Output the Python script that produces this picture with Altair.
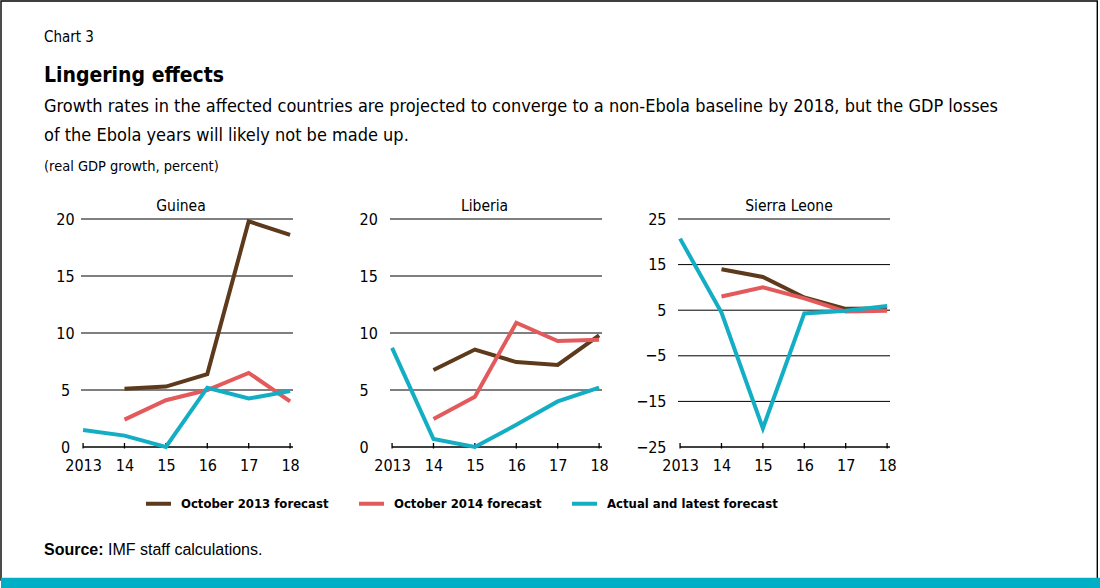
import json
import altair as alt
import pandas as pd

# ---------------- data ----------------
YEARS = [2013, 2014, 2015, 2016, 2017, 2018]
YEAR_LABELS = ["2013", "14", "15", "16", "17", "18"]
SERIES = ["October 2013 forecast", "October 2014 forecast", "Actual and latest forecast"]
COLORS = ["#5C3A1B", "#E35A5C", "#14AEC4"]

GUINEA_OCT13 = [None, 5.1, 5.3, 6.4, 19.8, 18.6]
GUINEA_OCT14 = [None, 2.4, 4.1, 5.0, 6.5, 4.0]
GUINEA_ACTUAL = [1.5, 1.0, 0.0, 5.2, 4.25, 4.9]

LIBERIA_OCT13 = [None, 6.75, 8.55, 7.45, 7.2, 9.8]
LIBERIA_OCT14 = [None, 2.45, 4.4, 10.9, 9.3, 9.4]
LIBERIA_ACTUAL = [8.7, 0.7, 0.0, 1.95, 4.0, 5.2]

SIERRA_OCT13 = [None, 14.0, 12.3, 7.8, 5.3, 5.4]
SIERRA_OCT14 = [None, 8.0, 10.0, 7.6, 4.7, 4.9]
SIERRA_ACTUAL = [20.7, 4.5, -20.9, 4.3, 4.9, 5.9]

GUINEA_TICKS = [0, 5, 10, 15, 20]
LIBERIA_TICKS = [0, 5, 10, 15, 20]
SIERRA_TICKS = [-25, -15, -5, 5, 15, 25]

CHART_NO = "Chart 3"
TITLE = "Lingering effects"
SUBTITLE = [
    "Growth rates in the affected countries are projected to converge to a non-Ebola baseline by 2018, but the GDP losses",
    "of the Ebola years will likely not be made up.",
]
UNITS = "(real GDP growth, percent)"
SOURCE_BOLD = "Source:"
SOURCE_TEXT = "IMF staff calculations."

# ---------------- style ----------------
NARROW = "DejaVu Sans Condensed, sans-serif"
REGULAR = "Liberation Sans, Arial, sans-serif"
TEAL = "#00AEC6"
PW = 212          # plot width
PH = 228          # plot height
OX, OY = 81, 219  # page position of first plot's origin
PX_PER_YEAR = PW / 5.12
X0 = 2012.95
X1 = 2018.07

one = pd.DataFrame({"k": [0]})


def long_df(oct13, oct14, actual):
    rows = []
    for s, vals in zip(SERIES, [oct13, oct14, actual]):
        for y, v in zip(YEARS, vals):
            if v is not None:
                rows.append({"Series": s, "Year": y, "Value": v})
    return pd.DataFrame(rows)


label_expr = f"{json.dumps(YEAR_LABELS)}[indexof({json.dumps(YEARS)}, datum.value)]"

legend = alt.Legend(
    title=None, orient="none", legendX=144 - OX, legendY=489 - OY,
    direction="horizontal", symbolType="stroke", symbolSize=625,
    symbolStrokeWidth=4, labelFont=NARROW, labelFontSize=13,
    labelFontWeight="bold", labelColor="black", labelOffset=8,
    columnPadding=22, padding=0, labelLimit=400,
)


def page_text(text, x, y, size, weight="normal", font=NARROW, align="left"):
    return alt.Chart(pd.DataFrame({"t": [text]})).mark_text(
        align=align, baseline="alphabetic", fontSize=size,
        fontWeight=weight, font=font, color="black",
    ).encode(x=alt.value(x), y=alt.value(y), text="t:N")


def panel(name, df, ticks, dom, cell_w, title_x, lab_pad, lab_align, extra=None):
    xdom_end = X1 + (cell_w - PW) / PX_PER_YEAR
    xs = alt.Scale(domain=[X0, xdom_end], nice=False, zero=False)
    ys = alt.Scale(domain=dom, nice=False, zero=False)
    xenc = alt.X(
        "Year:Q", scale=xs,
        axis=alt.Axis(values=YEARS, labelExpr=label_expr, domain=False,
                      ticks=False, grid=False, title=None, labelFont=NARROW,
                      labelFontSize=16, labelColor="black", labelPadding=10,
                      labelFlush=False, labelOverlap=False, zindex=1),
    )
    yenc = alt.Y(
        "Value:Q", scale=ys,
        axis=alt.Axis(values=ticks, domain=False, ticks=False, grid=False,
                      title=None, labelFont=NARROW, labelFontSize=16,
                      labelColor="black", labelPadding=lab_pad,
                      labelAlign=lab_align,
                      labelFlush=False, labelOverlap=False, zindex=1),
    )
    grid = alt.Chart(pd.DataFrame({"Value": ticks[1:]})).mark_rule(
        color="black", strokeWidth=1
    ).encode(y=alt.Y("Value:Q", scale=ys), x=alt.value(0), x2=alt.value(PW))
    base = alt.Chart(pd.DataFrame({"Year": [2013], "Value": [dom[0]]})).mark_rule(
        color="black", strokeWidth=1.3
    ).encode(x=alt.X("Year:Q", scale=xs), x2=alt.value(PW), y=alt.Y("Value:Q", scale=ys))
    tks = alt.Chart(pd.DataFrame({"Year": YEARS})).mark_rule(
        color="black", strokeWidth=1.3
    ).encode(x=alt.X("Year:Q", scale=xs), y=alt.value(PH - 4), y2=alt.value(PH + 1.5))
    lines = alt.Chart(df).mark_line(strokeWidth=4, strokeJoin="miter").encode(
        x=xenc, y=yenc,
        color=alt.Color("Series:N", scale=alt.Scale(domain=SERIES, range=COLORS),
                        legend=legend, sort=SERIES),
        detail="Series:N",
    )
    ttl = page_text(name, title_x, -8, 15.5, align="center")
    layers = (extra or []) + [grid, base, tks, lines, ttl]
    return alt.layer(*layers).properties(width=cell_w, height=PH)


background = alt.Chart(one).mark_rect(fill="white").encode(
    x=alt.value(0 - OX), x2=alt.value(1100 - OX), y=alt.value(0 - OY), y2=alt.value(588 - OY))
frame = alt.Chart(one).mark_rect(fill="white", fillOpacity=0, stroke="black", strokeWidth=1.4).encode(
    x=alt.value(1 - OX), x2=alt.value(1097.3 - OX), y=alt.value(1 - OY), y2=alt.value(580 - OY))
bar = alt.Chart(one).mark_rect(fill=TEAL).encode(
    x=alt.value(1 - OX), x2=alt.value(1100 - OX), y=alt.value(577.7 - OY), y2=alt.value(588 - OY))

page = [
    background, frame, bar,
    page_text(CHART_NO, 44 - OX, 42.3 - OY, 15),
    page_text(TITLE, 44 - OX, 82.3 - OY, 21, "bold"),
    page_text(SUBTITLE[0], 44 - OX, 112.3 - OY, 18),
    page_text(SUBTITLE[1], 44 - OX, 141.2 - OY, 18),
    page_text(UNITS, 44 - OX, 171 - OY, 14.5),
    page_text(SOURCE_BOLD, 44 - OX, 555 - OY, 16, "bold", REGULAR),
    page_text(SOURCE_TEXT, 108 - OX, 555 - OY, 16, "normal", REGULAR),
]

guinea = panel("Guinea", long_df(GUINEA_OCT13, GUINEA_OCT14, GUINEA_ACTUAL),
               GUINEA_TICKS, [0, 20], 233, 181 - 81, 16, "center", extra=page)
liberia = panel("Liberia", long_df(LIBERIA_OCT13, LIBERIA_OCT14, LIBERIA_ACTUAL),
                LIBERIA_TICKS, [0, 20], PW, 484.5 - 390, 31, "left")
sierra = panel("Sierra Leone", long_df(SIERRA_OCT13, SIERRA_OCT14, SIERRA_ACTUAL),
               SIERRA_TICKS, [-25, 25], PW, 789 - 678, 12, "right")

chart = alt.hconcat(guinea, liberia, sierra, spacing=76, bounds="flush").resolve_scale(
    x="independent", y="independent", color="shared"
).resolve_legend(color="shared").properties(padding=0, background="white").configure_view(stroke=None)

chart.save("out.html", embed_options={"renderer": "svg", "actions": False})
